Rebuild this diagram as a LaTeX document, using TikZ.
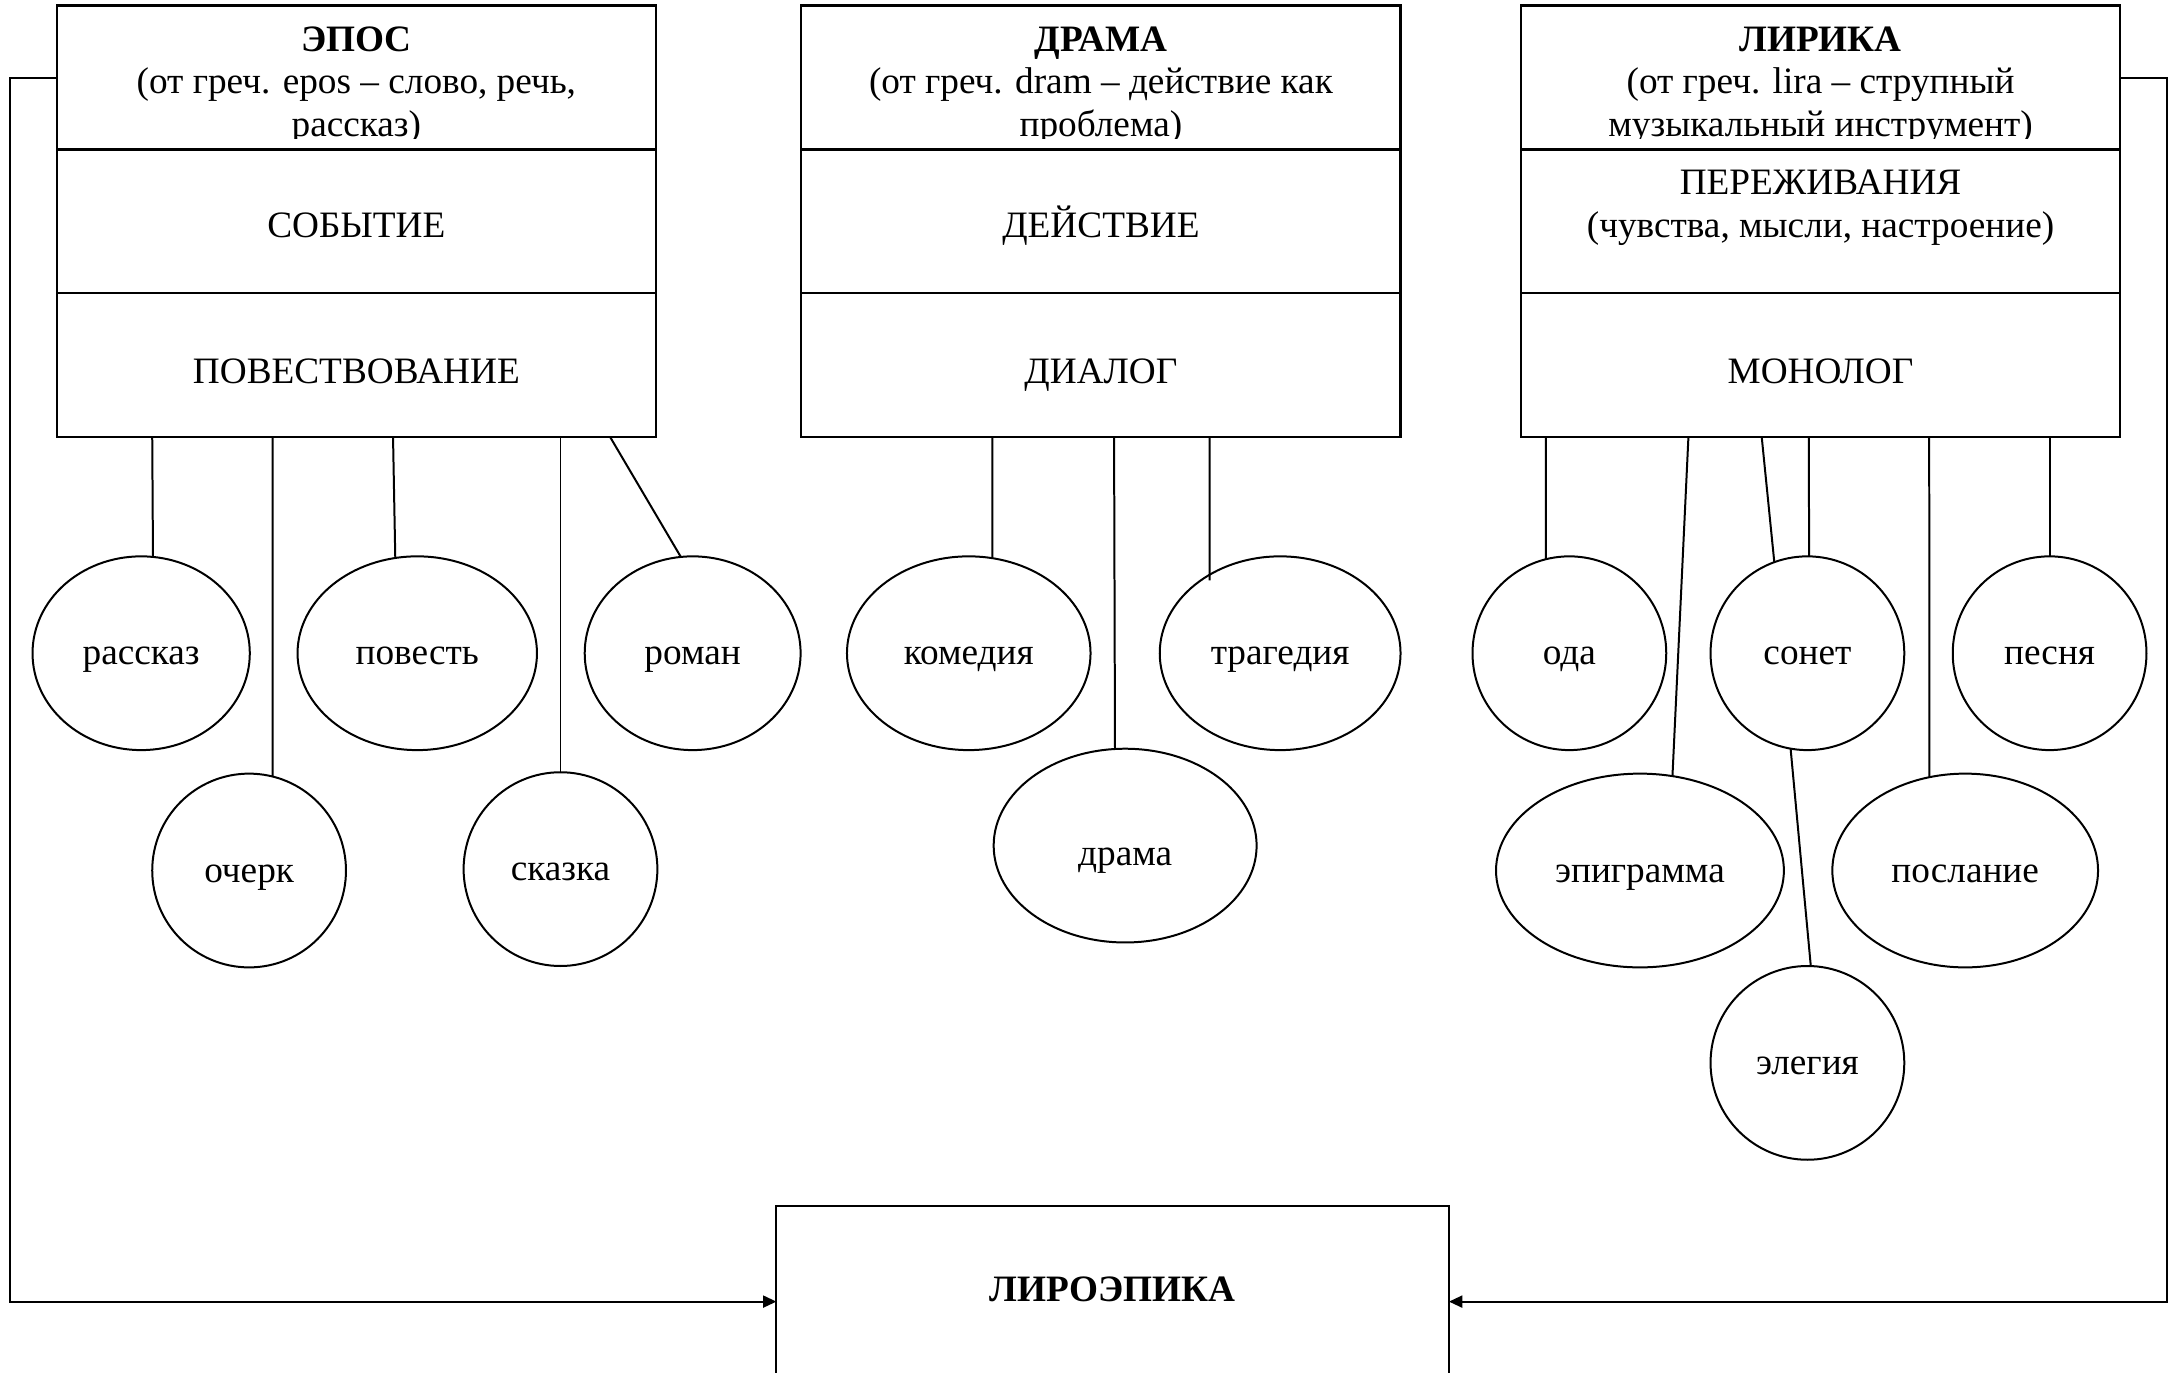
\documentclass[tikz,border=0pt]{standalone}
\usepackage{fontspec}
\setmainfont{Liberation Serif}
\usetikzlibrary{shapes.geometric,arrows.meta}
\newlength\ux \setlength\ux{0.52pt}
\begin{document}
\begin{tikzpicture}[x=0.52pt,y=0.52pt,
  sect/.style={draw,line width=0.8pt,minimum width=433\ux,minimum height=104\ux,inner sep=0,outer sep=0,fill=white},
  ttl/.style={anchor=base,font=\fontsize{14}{16.1}\selectfont,inner sep=0},
  lbl/.style={anchor=base,font=\fontsize{14}{16.1}\selectfont,inner sep=0},
  mlbl/.style={align=center,font=\fontsize{14}{16.1}\selectfont,inner sep=0},
  genre/.style={ellipse,draw,line width=0.75pt,inner sep=0,outer sep=0,font=\fontsize{14}{16.1}\selectfont,minimum height=140\ux,text height=10pt,text depth=1.2pt},
  link/.style={line width=0.75pt},
  arr/.style={line width=0.75pt,-{Triangle[length=5pt,width=4.5pt]}}]
\useasboundingbox (0,0) rectangle (1568,-992);
\fill[white] (0,0) rectangle (1568,-992);

% ---- ЭПОС
\node[sect] (epos1) at (257.5,-56) {};
\begin{scope}
\clip (41,-4) rectangle (474,-100);
\node[ttl] (eposT1) at (257.5,-37) {\textbf{ЭПОС}};
\node[ttl] (eposT2) at (257.5,-67.5) {(от греч. epos – слово, речь,};
\node[ttl] (eposT3) at (257.5,-98.5) {рассказ)};
\end{scope}
\node[sect] (epos2) at (257.5,-160) {};
\node[sect] (epos3) at (257.5,-264) {};
\node[lbl] (eposA) at (257.5,-171.5) {СОБЫТИЕ};
\node[lbl] (eposB) at (257.5,-277) {ПОВЕСТВОВАНИЕ};

% ---- ДРАМА
\node[sect] (dram1) at (795.5,-56) {};
\begin{scope}
\clip (579,-4) rectangle (1012,-100);
\node[ttl] (dramT1) at (795.5,-37) {\textbf{ДРАМА}};
\node[ttl] (dramT2) at (795.5,-67.5) {(от греч. dram – действие как};
\node[ttl] (dramT3) at (795.5,-98.5) {проблема)};
\end{scope}
\node[sect] (dram2) at (795.5,-160) {};
\node[sect] (dram3) at (795.5,-264) {};
\node[lbl] (dramA) at (795.5,-171.5) {ДЕЙСТВИЕ};
\node[lbl] (dramB) at (795.5,-277) {ДИАЛОГ};

% ---- ЛИРИКА
\node[sect] (lyr1) at (1315.5,-56) {};
\begin{scope}
\clip (1099,-4) rectangle (1532,-100);
\node[ttl] (lyrT1) at (1315.5,-37) {\textbf{ЛИРИКА}};
\node[ttl] (lyrT2) at (1315.5,-67.5) {(от греч. lira – струпный};
\node[ttl] (lyrT3) at (1315.5,-98.5) {музыкальный инструмент)};
\end{scope}
\node[sect] (lyr2) at (1315.5,-160) {};
\node[sect] (lyr3) at (1315.5,-264) {};
\node[mlbl] (lyrA) at (1315.5,-150) {ПЕРЕЖИВАНИЯ\\(чувства, мысли, настроение)};
\node[lbl] (lyrB) at (1315.5,-277) {МОНОЛОГ};

% ---- genres (epos)
\node[genre,minimum width=157\ux] (rasskaz) at (102,-472) {рассказ};
\node[genre,minimum width=140\ux] (ocherk) at (180,-629) {очерк};
\node[genre,minimum width=173\ux] (povest) at (301.5,-472) {повесть};
\node[genre,minimum width=140\ux] (skazka) at (405,-628) {сказка};
\node[genre,minimum width=156\ux] (roman) at (500.5,-472) {роман};

% ---- genres (drama)
\node[genre,minimum width=176\ux] (komed) at (700,-472) {комедия};
\node[genre,minimum width=174\ux] (traged) at (925,-472) {трагедия};
\node[genre,minimum width=190\ux,text height=16.2pt,text depth=1.2pt] (drama) at (813,-611) {драма};

% ---- genres (lyric)
\node[genre,minimum width=140\ux] (oda) at (1134,-472) {ода};
\node[genre,minimum width=140\ux] (sonet) at (1306,-472) {сонет};
\node[genre,minimum width=140\ux] (pesnya) at (1481,-472) {песня};
\node[genre,minimum width=208\ux] (epigr) at (1185,-629) {эпиграмма};
\node[genre,minimum width=192\ux] (poslan) at (1420,-629) {послание};
\node[genre,minimum width=140\ux] (elegia) at (1306,-768) {элегия};

% ---- start points on box bottoms
\coordinate (e1) at (110,-316);
\coordinate (e2) at (197,-316);
\coordinate (e3) at (284,-316);
\coordinate (e4) at (405,-316);
\coordinate (e5) at (441,-316);
\coordinate (d1) at (717,-316);
\coordinate (d2) at (805,-316);
\coordinate (d3) at (874,-316);
\coordinate (l1) at (1117,-316);
\coordinate (l2) at (1220,-316);
\coordinate (l3) at (1273,-316);
\coordinate (l4) at (1307,-316);
\coordinate (l5) at (1394,-316);
\coordinate (l6) at (1481,-316);

\draw[link] (e1) -- (rasskaz.83.4);
\draw[link] (e2) -- (ocherk.76);
\draw[link] (e3) -- (povest.103.9);
\draw[link] (e4) -- (skazka.90);
\draw[link] (e5) -- (roman.97);

\draw[link] (d1) -- (komed.76.1);
\draw[link] (d2) -- (drama.96.5);
\draw[link] (d3) -- ([yshift=-4\ux]traged.132);

\draw[link] (l1) -- (oda.104.1);
\draw[link] (l2) -- (epigr.71.1);
\draw[link] (l3) -- (sonet.110);
\draw[link] (l4) -- (sonet.89);
\draw[link] (l5) -- (poslan.111.1);
\draw[link] (l6) -- (pesnya.90);
\draw[link] (sonet.260) -- (elegia.88);

% ---- ЛИРОЭПИКА
\node[draw,line width=0.8pt,minimum width=486\ux,minimum height=138\ux,inner sep=0,outer sep=0] (lyroep) at (804,-940.5) {};
\node[lbl,font=\fontsize{14}{16.1}\selectfont\bfseries] (lyroepT) at (804,-940.5) {ЛИРОЭПИКА};

\draw[arr] (epos1.west) -- ++(-34,0) |- (lyroep.west);
\draw[arr] (lyr1.east) -- ++(34,0) |- (lyroep.east);
\end{tikzpicture}
\end{document}
